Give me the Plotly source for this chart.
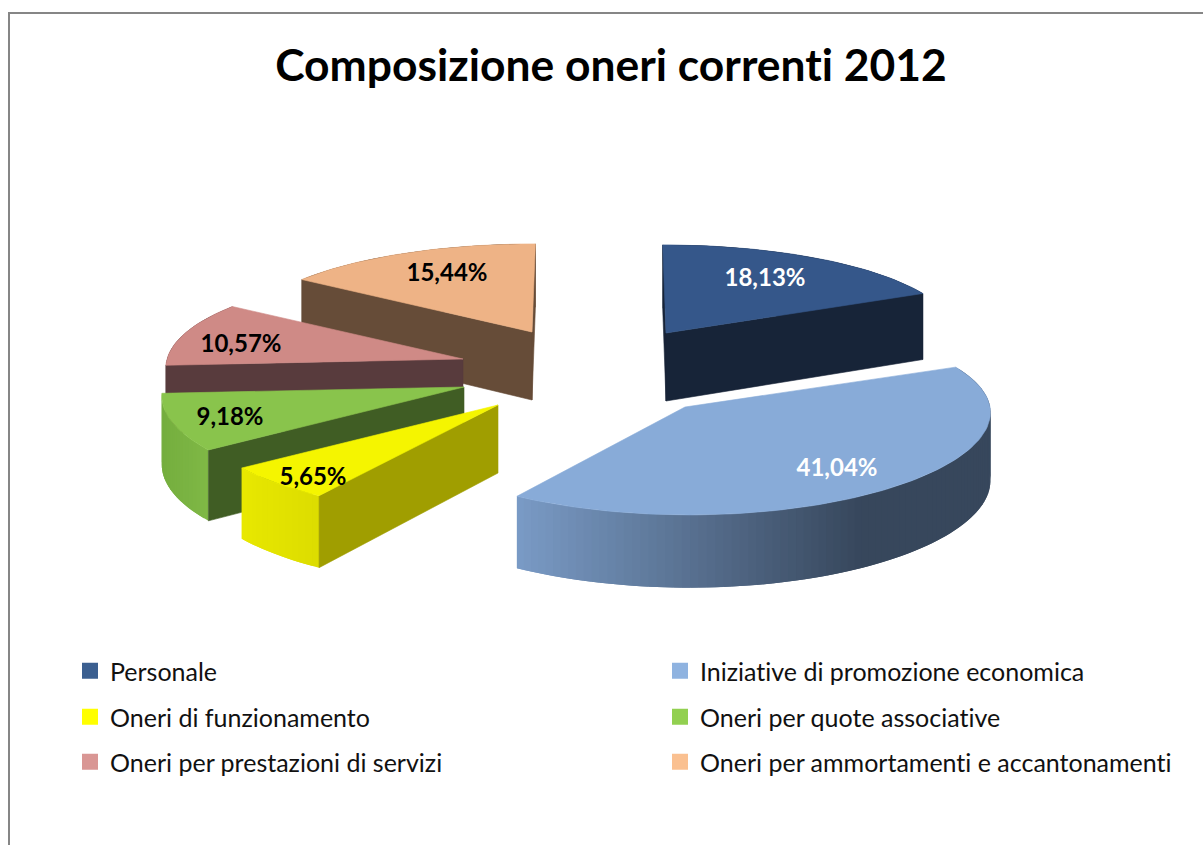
import math
import plotly.graph_objects as go

# ---- data ----
categories = ["Personale", "Iniziative di promozione economica", "Oneri di funzionamento",
              "Oneri per quote associative", "Oneri per prestazioni di servizi",
              "Oneri per ammortamenti e accantonamenti"]
shares = [18.13, 41.04, 5.65, 9.18, 10.57, 15.44]
title_text = "Composizione oneri correnti 2012"

# ---- styles and placement ----
apex = [(666, 333), (685, 407), (498, 405), (464, 387), (463, 359), (532, 332)]
radius_x = [293, 305, 303, 301, 296, 293]
depth_x = [0.07, 0.04, 0.07, 0.07, 0.07, 0.07]
depth_y = [0.11, 0.09, 0.11, 0.11, 0.11, 0.11]
top_col = ["#35578a", "#88abd8", "#f5f500", "#89c44c", "#cf8a86", "#eeb386"]
cut_col = ["#172438", "#3a4a5e", "#a09e00", "#405d24", "#583b3d", "#664c38"]
# outer wall gradient: colour left, colour right, x left, x right
wall_grad = [("#172438", "#172438", 0, 1), ("#7a9bc6", "#37475c", 516, 860),
             ("#e8e800", "#dcdc00", 242, 320), ("#74ad3e", "#80b946", 161, 210),
             ("#583b3d", "#583b3d", 0, 1), ("#664c38", "#664c38", 0, 1)]
label_xy = [(765, 280), (837, 470), (313, 479), (230, 419), (241, 346), (447, 275)]
label_col = ["white", "white", "black", "black", "black", "black"]
legend_col = ["#3b5f90", "#8fb3e0", "#ffff00", "#92d050", "#d99694", "#fac090"]
legend_xy = [(70, 648), (660, 648), (70, 694), (660, 694), (70, 739), (660, 739)]
# painter's order, back to front
draw_order = [5, 0, 4, 3, 2, 1]
RY, H, VX = 99, 68, 600
W, HT = 1203, 845


def rgb(c):
    return [int(c[i:i + 2], 16) for i in (1, 3, 5)]


def mix(a, b, t):
    t = max(0, min(1, t))
    return "rgb(%d,%d,%d)" % tuple(round(p + (q - p) * t) for p, q in zip(rgb(a), rgb(b)))


def proj(i, deg):
    th = math.radians(deg)
    s, c = math.sin(th), math.cos(th)
    ax, ay = apex[i]
    x = ax + radius_x[i] * (1 - depth_x[i] * c) * s - (ax - VX) * 0.05 * c
    y = ay - RY * (1 - depth_y[i] * c) * c
    return x, y, H * (1 - 0.07 * c)


total = sum(shares)
angles = [0.0]
for v in shares:
    angles.append(angles[-1] + v / total * 360)


def poly(xs, ys, color, lw=0.6):
    return go.Scatter(x=xs, y=ys, mode="lines", fill="toself", fillcolor=color,
                      line=dict(color=color, width=lw), hoverinfo="skip", showlegend=False)


fig = go.Figure()
for i in draw_order:
    a0, a1 = angles[i], angles[i + 1]
    steps = max(4, int((a1 - a0) / 1.5))
    arc = [a0 + (a1 - a0) * k / steps for k in range(steps + 1)]
    pts = [proj(i, a) for a in arc]
    cl, cr, xl, xr = wall_grad[i]
    # outer wall: each strip reaches over its neighbour so no seams show
    for k in range(len(pts) - 1):
        p, q = pts[k], pts[min(k + 2, len(pts) - 1)]
        t = ((pts[k][0] + pts[k + 1][0]) / 2 - xl) / (xr - xl)
        fig.add_trace(poly([p[0], pts[k + 1][0], q[0], q[0], pts[k + 1][0], p[0], p[0]],
                           [p[1], pts[k + 1][1], q[1], q[1] + q[2], pts[k + 1][1] + pts[k + 1][2],
                            p[1] + p[2], p[1]], mix(cl, cr, t), 0))
    ax, ay = apex[i]
    # cut faces turned towards the viewer
    if math.sin(math.radians(a0)) < 1e-9:
        p = pts[0]
        fig.add_trace(poly([ax, p[0], p[0], ax, ax], [ay, p[1], p[1] + p[2], ay + H, ay], cut_col[i]))
    if math.sin(math.radians(a1)) > -1e-9:
        p = pts[-1]
        fig.add_trace(poly([ax, p[0], p[0], ax, ax], [ay, p[1], p[1] + p[2], ay + H, ay], cut_col[i]))
    # top face
    fig.add_trace(poly([ax] + [p[0] for p in pts] + [ax], [ay] + [p[1] for p in pts] + [ay], top_col[i]))

# data labels
fig.add_trace(go.Scatter(
    x=[p[0] for p in label_xy], y=[p[1] for p in label_xy], mode="text",
    text=[f"{v:.2f}".replace(".", ",") + "%" for v in shares],
    textposition="middle center",
    textfont=dict(family="Lato", size=24, color=label_col, weight="bold"),
    hoverinfo="skip", showlegend=False))

# one legend per entry, so each sits where the original has it
legends = {}
for k, (name, col, (lx, ly)) in enumerate(zip(categories, legend_col, legend_xy)):
    key = "legend" if k == 0 else f"legend{k + 1}"
    fig.add_trace(go.Scatter(x=[None], y=[None], mode="markers", name=name,
                             marker=dict(symbol="square", size=16, color=col),
                             legend=key, showlegend=True))
    legends[key] = dict(x=lx / W, y=1 - ly / HT, xanchor="left", yanchor="top",
                        bgcolor="rgba(0,0,0,0)", font=dict(family="Lato", size=25, color="#111111"),
                        itemclick=False, itemdoubleclick=False)

fig.update_layout(
    width=W, height=HT, margin=dict(l=0, r=0, t=0, b=0),
    paper_bgcolor="white", plot_bgcolor="white",
    xaxis=dict(range=[0, W], visible=False, fixedrange=True),
    yaxis=dict(range=[HT, 0], visible=False, fixedrange=True),
    title=dict(text=title_text, x=611 / W, xanchor="center", y=1 - 65 / HT, yanchor="middle",
               font=dict(family="Lato", size=44.4, color="black", weight="bold")),
    shapes=[dict(type="path", xref="paper", yref="paper",
                 path=f"M {9 / W} 0 L {9 / W} {1 - 13 / HT} L 1 {1 - 13 / HT}",
                 line=dict(color="#868686", width=2))],
    **legends,
)
fig.write_html("out.html", config={"displayModeBar": False},
               post_script="document.body.style.margin='0';document.body.style.overflow='hidden';"
                           "var st=document.createElement('style');"
                           "st.textContent='text{font-variant-ligatures:none!important}';"
                           "document.head.appendChild(st);")
